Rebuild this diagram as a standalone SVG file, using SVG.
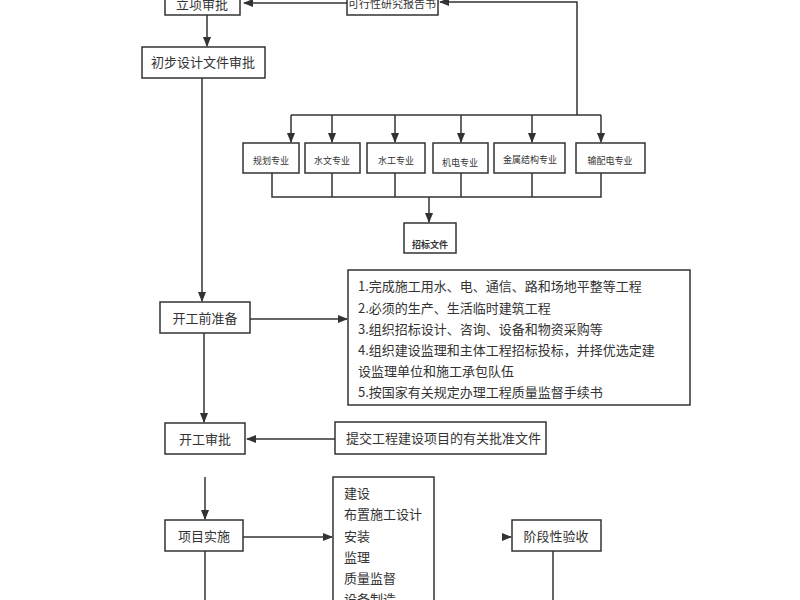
<svg xmlns="http://www.w3.org/2000/svg" width="800" height="600" viewBox="0 0 800 600">
<style>
rect{fill:#fff;stroke:#333;stroke-width:1.5}
text{font-family:"Noto Sans CJK SC","Liberation Serif",serif;fill:#333;font-size:13px}
.s{font-size:9px}
.b{font-size:9px;font-weight:bold}
.c line,.c path{stroke:#333;stroke-width:1.5;fill:none}
</style>
<defs><marker id="a" viewBox="0 0 10 10" refX="9" refY="5" markerWidth="7" markerHeight="7" orient="auto"><path d="M0,1L10,5L0,9z" fill="#333"/></marker></defs>
<rect width="800" height="600" style="fill:#fff;stroke:none"/>
<g class="c">
<line x1="347" y1="3" x2="244" y2="3" marker-end="url(#a)"/>
<path d="M577,115V2H440" marker-end="url(#a)"/>
<line x1="207" y1="15" x2="207" y2="46" marker-end="url(#a)"/>
<line x1="202" y1="78" x2="202" y2="301" marker-end="url(#a)"/>
<line x1="291" y1="115" x2="601" y2="115"/>
<line x1="291" y1="115" x2="291" y2="142" marker-end="url(#a)"/>
<line x1="332" y1="115" x2="332" y2="142" marker-end="url(#a)"/>
<line x1="395" y1="115" x2="395" y2="142" marker-end="url(#a)"/>
<line x1="461" y1="115" x2="461" y2="142" marker-end="url(#a)"/>
<line x1="532" y1="115" x2="532" y2="142" marker-end="url(#a)"/>
<line x1="601" y1="115" x2="601" y2="142" marker-end="url(#a)"/>
<path d="M272,173V197H601V173M332,173V197M395,173V197M461,173V197M532,173V197"/>
<line x1="429" y1="197" x2="429" y2="222" marker-end="url(#a)"/>
<line x1="250" y1="319" x2="347" y2="319" marker-end="url(#a)"/>
<line x1="204" y1="333" x2="204" y2="422" marker-end="url(#a)"/>
<line x1="335" y1="439" x2="247" y2="439" marker-end="url(#a)"/>
<line x1="205" y1="477" x2="205" y2="519" marker-end="url(#a)"/>
<line x1="205" y1="551" x2="205" y2="600"/>
<line x1="243" y1="537" x2="332" y2="537" marker-end="url(#a)"/>
<line x1="506" y1="537" x2="511" y2="537" marker-end="url(#a)"/>
<line x1="553" y1="551" x2="553" y2="600"/>
</g>
<g id="n1"><rect x="165" y="-10" width="75" height="25"/><text x="202" y="9" text-anchor="middle">立项审批</text></g>
<g id="n2"><rect x="347" y="-10" width="91" height="25"/><text x="392" y="8" text-anchor="middle" class="s" style="font-size:11px">可行性研究报告书</text></g>
<g id="n3"><rect x="142" y="47" width="123" height="31"/><text x="203" y="67" text-anchor="middle">初步设计文件审批</text></g>
<g id="p1"><rect x="243" y="143" width="56" height="30"/><text x="271" y="164" text-anchor="middle" class="s">规划专业</text></g>
<g id="p2"><rect x="305" y="143" width="55" height="30"/><text x="332" y="164" text-anchor="middle" class="s">水文专业</text></g>
<g id="p3"><rect x="367" y="143" width="58" height="30"/><text x="396" y="164" text-anchor="middle" class="s">水工专业</text></g>
<g id="p4"><rect x="433" y="143" width="55" height="30"/><text x="460" y="166" text-anchor="middle" class="s">机电专业</text></g>
<g id="p5"><rect x="494" y="143" width="71" height="30"/><text x="530" y="163" text-anchor="middle" class="s">金属结构专业</text></g>
<g id="p6"><rect x="576" y="143" width="69" height="30"/><text x="610" y="164" text-anchor="middle" class="s">输配电专业</text></g>
<g id="n4"><rect x="404" y="223" width="52" height="30"/><text x="430" y="248" text-anchor="middle" class="b">招标文件</text></g>
<g id="n5"><rect x="160" y="302" width="90" height="31"/><text x="205" y="323" text-anchor="middle">开工前准备</text></g>
<g id="n6"><rect x="348" y="270" width="342" height="135"/>
<text x="358" y="291">1.完成施工用水、电、通信、路和场地平整等工程</text>
<text x="358" y="313">2.必须的生产、生活临时建筑工程</text>
<text x="358" y="334">3.组织招标设计、咨询、设备和物资采购等</text>
<text x="358" y="355">4.组织建设监理和主体工程招标投标，并择优选定建</text>
<text x="358" y="376">设监理单位和施工承包队伍</text>
<text x="358" y="397">5.按国家有关规定办理工程质量监督手续书</text></g>
<g id="n7"><rect x="165" y="423" width="80" height="31"/><text x="205" y="444" text-anchor="middle">开工审批</text></g>
<g id="n8"><rect x="335" y="422" width="211" height="32"/><text x="346" y="443">提交工程建设项目的有关批准文件</text></g>
<g id="n9"><rect x="165" y="520" width="78" height="31"/><text x="204" y="541" text-anchor="middle">项目实施</text></g>
<g id="n10"><rect x="333" y="477" width="101" height="140"/>
<text x="344" y="498">建设</text><text x="344" y="519">布置施工设计</text><text x="344" y="541">安装</text><text x="344" y="562">监理</text><text x="344" y="583">质量监督</text><text x="344" y="604">设备制造</text></g>
<g id="n11"><rect x="512" y="520" width="89" height="31"/><text x="556" y="541" text-anchor="middle">阶段性验收</text></g>
</svg>
